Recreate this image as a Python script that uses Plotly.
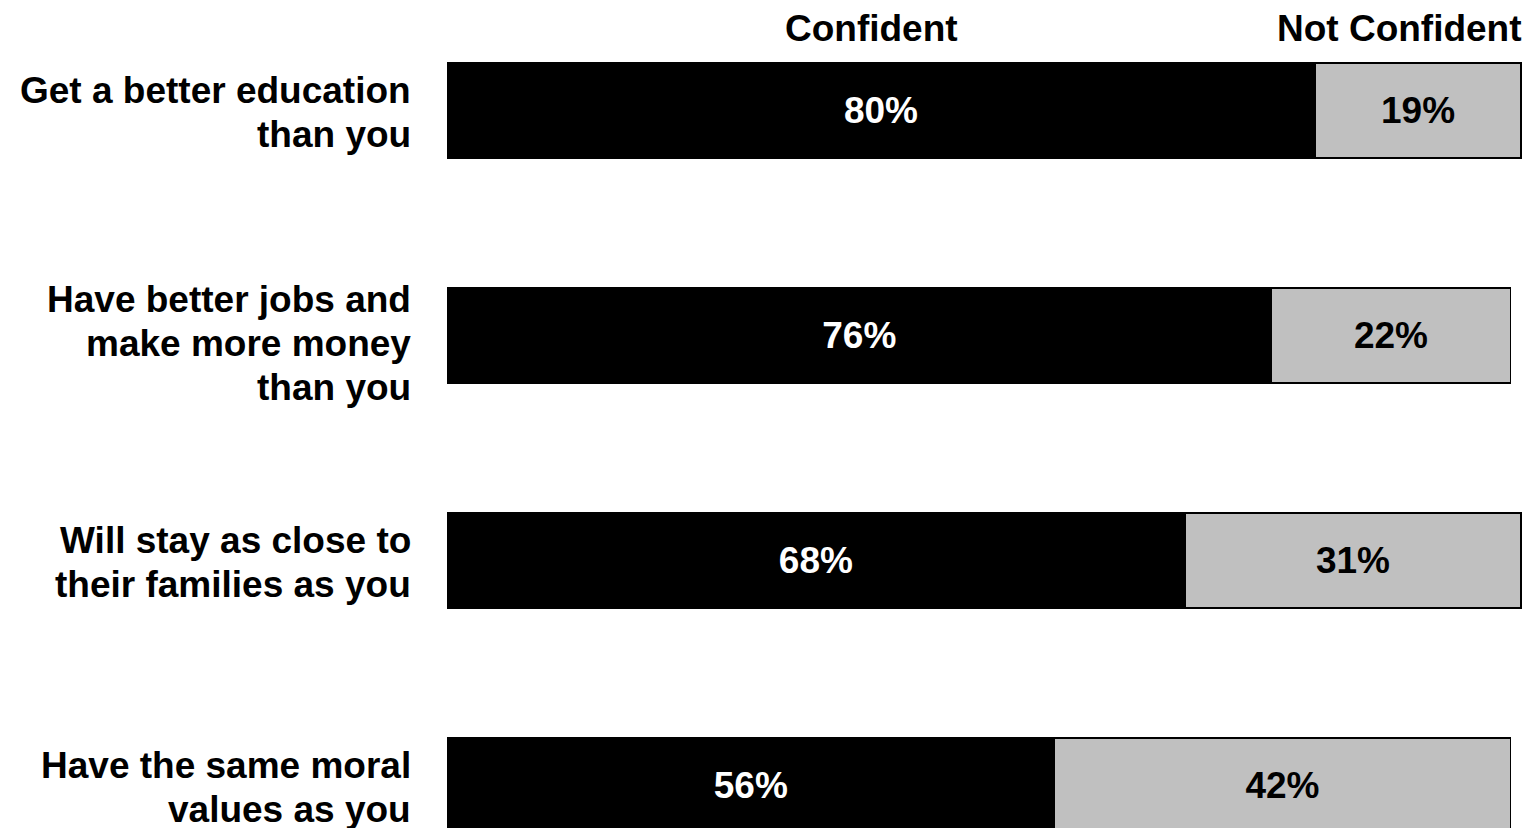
import plotly.graph_objects as go

categories = [
    ["Get a better education", "than you"],
    ["Have better jobs and", "make more money", "than you"],
    ["Will stay as close to", "their families as you"],
    ["Have the same moral", "values as you"],
]
confident = [80, 76, 68, 56]
not_confident = [19, 22, 31, 42]
series_names = ["Confident", "Not Confident"]

FONT = "Liberation Sans, Arial, sans-serif"
FS = 37
PX_PER_UNIT_Y = 225.0
BODY = 8  # default page margin of the html body

ypos = list(range(len(categories)))

fig = go.Figure()
fig.add_trace(go.Bar(
    y=ypos, x=confident, orientation="h", name=series_names[0],
    marker=dict(color="#000000", line=dict(color="#000000", width=1.5)),
    width=0.424,
    texttemplate="%{x}%", textposition="inside", insidetextanchor="middle",
    textfont=dict(family=FONT, size=FS, color="white", weight="bold"),
    constraintext="none",
))
fig.add_trace(go.Bar(
    y=ypos, x=not_confident, orientation="h", name=series_names[1],
    marker=dict(color="#C0C0C0", line=dict(color="#000000", width=1.5)),
    width=0.424,
    texttemplate="%{x}%", textposition="inside", insidetextanchor="middle",
    textfont=dict(family=FONT, size=FS, color="black", weight="bold"),
    constraintext="none",
))

annotations = []
for i, lines in enumerate(categories):
    n = len(lines)
    offset = 8 if n == 3 else 2
    for j, line in enumerate(lines):
        annotations.append(dict(
            x=0, xref="paper", y=i, yref="y",
            xanchor="right", yanchor="middle",
            xshift=-34,
            yshift=-((j - (n - 1) / 2) * 44 + offset),
            text=line, showarrow=False,
            font=dict(family=FONT, size=FS, color="black", weight="bold"),
        ))

top = -(110.5 - BODY) / PX_PER_UNIT_Y
header_y = top + (28 - BODY) / PX_PER_UNIT_Y
for name, xc in zip(series_names, [39.1, 87.8]):
    annotations.append(dict(
        x=xc, xref="x", y=header_y, yref="y",
        xanchor="center", yanchor="middle",
        text=name, showarrow=False,
        font=dict(family=FONT, size=FS, color="black", weight="bold"),
    ))

W, H = 1535 - BODY, 828 - BODY
fig.update_layout(
    width=W, height=H,
    margin=dict(l=447 - BODY, r=0, t=0, b=0),
    barmode="stack",
    showlegend=False,
    plot_bgcolor="white", paper_bgcolor="white",
    annotations=annotations,
    xaxis=dict(range=[0, 1088 / 10.85], visible=False, fixedrange=True),
    yaxis=dict(range=[top + H / PX_PER_UNIT_Y, top], visible=False, fixedrange=True),
)

fig.write_html("out.html")
